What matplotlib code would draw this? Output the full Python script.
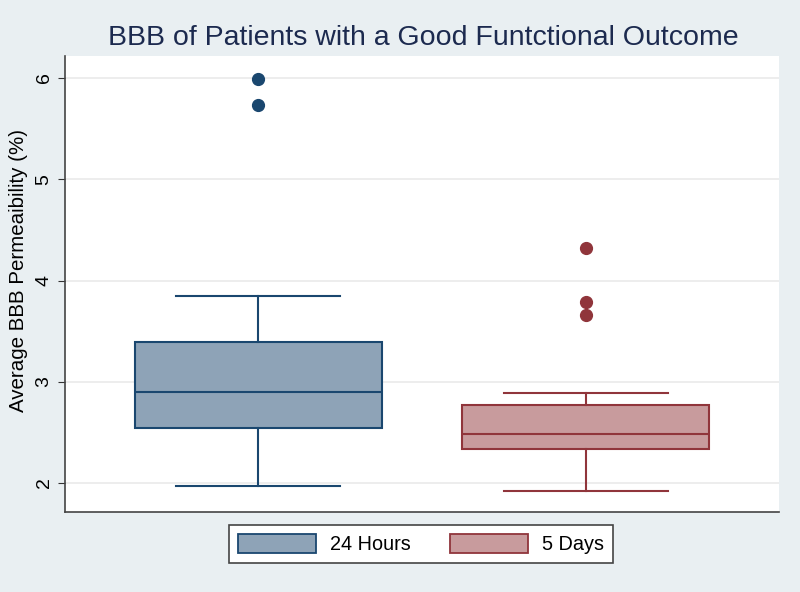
import matplotlib.pyplot as plt
from matplotlib.patches import Patch

plt.rcParams['font.family'] = ['Liberation Sans', 'DejaVu Sans']

# box plot summary
groups = ['24 Hours', '5 Days']
q1 = [2.54, 2.34]
medians = [2.90, 2.48]
q3 = [3.39, 2.77]
whisk_lo = [1.97, 1.92]
whisk_hi = [3.85, 2.89]
outliers = [[5.99, 5.73], [4.32, 3.79, 3.66]]
y_ticks = [2, 3, 4, 5, 6]

fills = ['#8ea3b7', '#c89b9d']
edges = ['#1a476f', '#90353b']

fig = plt.figure(figsize=(8, 5.92), dpi=100)
fig.patch.set_facecolor('#e9eff2')
ax = fig.add_axes([65/800, 1-512/592, (779-65)/800, (512-56)/592])
ax.set_facecolor('white')

stats = []
for i in range(len(groups)):
    stats.append(dict(med=medians[i], q1=q1[i], q3=q3[i], whislo=whisk_lo[i],
                      whishi=whisk_hi[i], fliers=outliers[i], label=groups[i]))

for i, st in enumerate(stats):
    ax.bxp([st], positions=[i + 1], widths=0.755, patch_artist=True,
           showcaps=True,
           boxprops=dict(facecolor=fills[i], edgecolor=edges[i], linewidth=1.5),
           medianprops=dict(color=edges[i], linewidth=1.5),
           whiskerprops=dict(color=edges[i], linewidth=1.5),
           capprops=dict(color=edges[i], linewidth=1.5),
           capwidths=0.5,
           flierprops=dict(marker='o', markerfacecolor=edges[i], markeredgecolor=edges[i],
                           markersize=8.5))

ax.set_xlim(0.41, 2.59)
ax.set_ylim(6 - (512-78)/101.25, 6 + (78-56)/101.25)
ax.set_xticks([])
ax.set_yticks(y_ticks)
ax.set_yticklabels([str(t) for t in y_ticks], rotation=90, va='center', fontsize=14)
ax.tick_params(axis='y', length=5, color='#333333', pad=4)
ax.yaxis.grid(True, color='#eaeaea', linewidth=1.2)
ax.set_axisbelow(True)
for s in ['top', 'right']:
    ax.spines[s].set_visible(False)
for s in ['left', 'bottom']:
    ax.spines[s].set_color('#444444')
    ax.spines[s].set_linewidth(1.2)

ax.set_ylabel('Average BBB Permeaibility (%)', fontsize=14.8)
ax.yaxis.set_label_coords(-37/714, (512-271)/456)
fig.text(423/800, 1-38/592, 'BBB of Patients with a Good Funtctional Outcome',
         ha='center', va='center', fontsize=20.5, color='#1c2a4f')

handles = [Patch(facecolor=fills[i], edgecolor=edges[i], linewidth=1.3, label=groups[i])
           for i in range(len(groups))]
leg = fig.legend(handles=handles, loc='center', ncol=2,
                 bbox_to_anchor=(421/800, 1-544/592), fontsize=14.3,
                 handlelength=3.9, handleheight=1.15, columnspacing=2.0,
                 handletextpad=0.7, fancybox=False, framealpha=1,
                 edgecolor='#444444', borderpad=0.45)
leg.get_frame().set_linewidth(1.2)

fig.savefig('out.png', dpi=100, facecolor=fig.get_facecolor())
